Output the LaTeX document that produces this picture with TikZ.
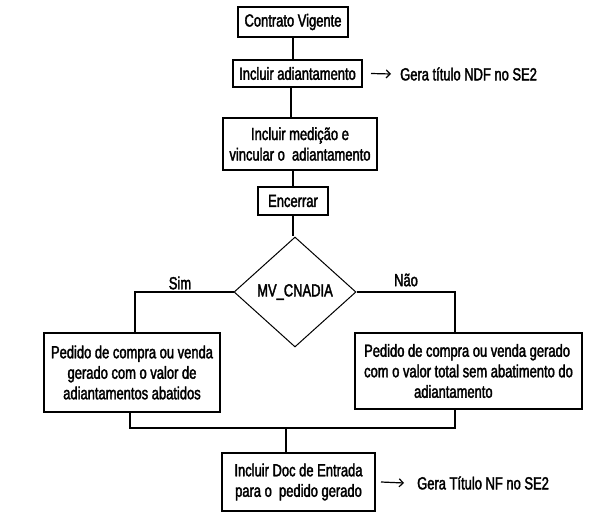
\documentclass[tikz,border=0pt]{standalone}
\usepackage{fontspec}
\setmainfont{Liberation Sans}[FakeStretch=0.74, FakeBold=2]
\usetikzlibrary{arrows.meta, shapes.geometric}

\begin{document}
\begin{tikzpicture}[x=1pt, y=-1pt,
      etapa/.style={rectangle, draw=black, line width=2pt, fill=white, text=black, inner sep=2pt, align=center, font=\fontsize{17.5}{20.5}\selectfont},
      decisao/.style={diamond, draw=black, line width=1pt, fill=white, inner sep=0pt, minimum width=122pt, minimum height=110pt, font=\fontsize{17.5}{20.5}\selectfont},
      nota/.style={inner sep=0pt, anchor=west, font=\fontsize{17.5}{20.5}\selectfont},
      ligacao/.style={line width=2pt, black},
      seta/.style={-{Straight Barb[length=4pt, width=8pt]}, line width=1.2pt, black},
    ]
    \useasboundingbox (0,0) rectangle (590,524);

    \node[etapa, minimum width=110pt, minimum height=30pt] (contrato) at (293,22) {Contrato Vigente};
    \node[etapa, minimum width=129pt, minimum height=27pt] (adiant) at (297.5,73.5) {Incluir adiantamento};
    \node[etapa, minimum width=154pt, minimum height=52pt] (medicao) at (300,144) {Incluir medição e\\vincular o~ adiantamento};
    \node[etapa, minimum width=70pt, minimum height=28pt] (encerrar) at (293,201) {Encerrar};
    \node[decisao] (param) at (295,292) {MV\_CNADIA};
    \node[etapa, minimum width=176pt, minimum height=79pt] (comabat) at (132,372.5) {Pedido de compra ou venda\\gerado com o valor de\\adiantamentos abatidos};
    \node[etapa, minimum width=227pt, minimum height=76pt, align=left] (semabat) at (468.5,371) {Pedido de compra ou venda gerado\\com o valor total sem abatimento do\\\hspace*{50pt}adiantamento};
    \node[etapa, minimum width=153pt, minimum height=58pt] (docent) at (298.5,482) {Incluir Doc de Entrada\\para o~ pedido gerado};

    \node[nota] (ndf) at (400,74) {Gera título NDF no SE2};
    \node[nota] (nf) at (417,483) {Gera Título NF no SE2};

    \node[font=\fontsize{17.5}{20.5}\selectfont] (sim) at (180,283) {Sim};
    \node[font=\fontsize{17.5}{20.5}\selectfont] (nao) at (406,280) {Não};

    \coordinate (juncao) at (286,428);

    \draw[ligacao] (contrato.south) -- (contrato.south |- adiant.north);
    \draw[ligacao] ([xshift=-7pt]adiant.south) -- ([xshift=-7pt]adiant.south |- medicao.north);
    \draw[ligacao] ([xshift=-7pt]medicao.south) -- ([xshift=-7pt]medicao.south |- encerrar.north);
    \draw[ligacao] (encerrar.south) -- (encerrar.south |- param.north);
    \draw[ligacao] (param.west) -| ([xshift=3pt]comabat.north);
    \draw[ligacao] (param.east) -| ([xshift=-13.5pt]semabat.north);
    \draw[ligacao] ([xshift=-2pt]comabat.south) |- (juncao) -| ([xshift=-13.5pt]semabat.south);
    \draw[ligacao] (juncao) -- (juncao |- docent.north);

    \draw[seta] ([xshift=8pt]adiant.east) -- ([xshift=-9pt]ndf.west);
    \draw[seta] ([xshift=5pt]docent.east) -- ([xshift=-13pt]nf.west);
  \end{tikzpicture}
\end{document}
